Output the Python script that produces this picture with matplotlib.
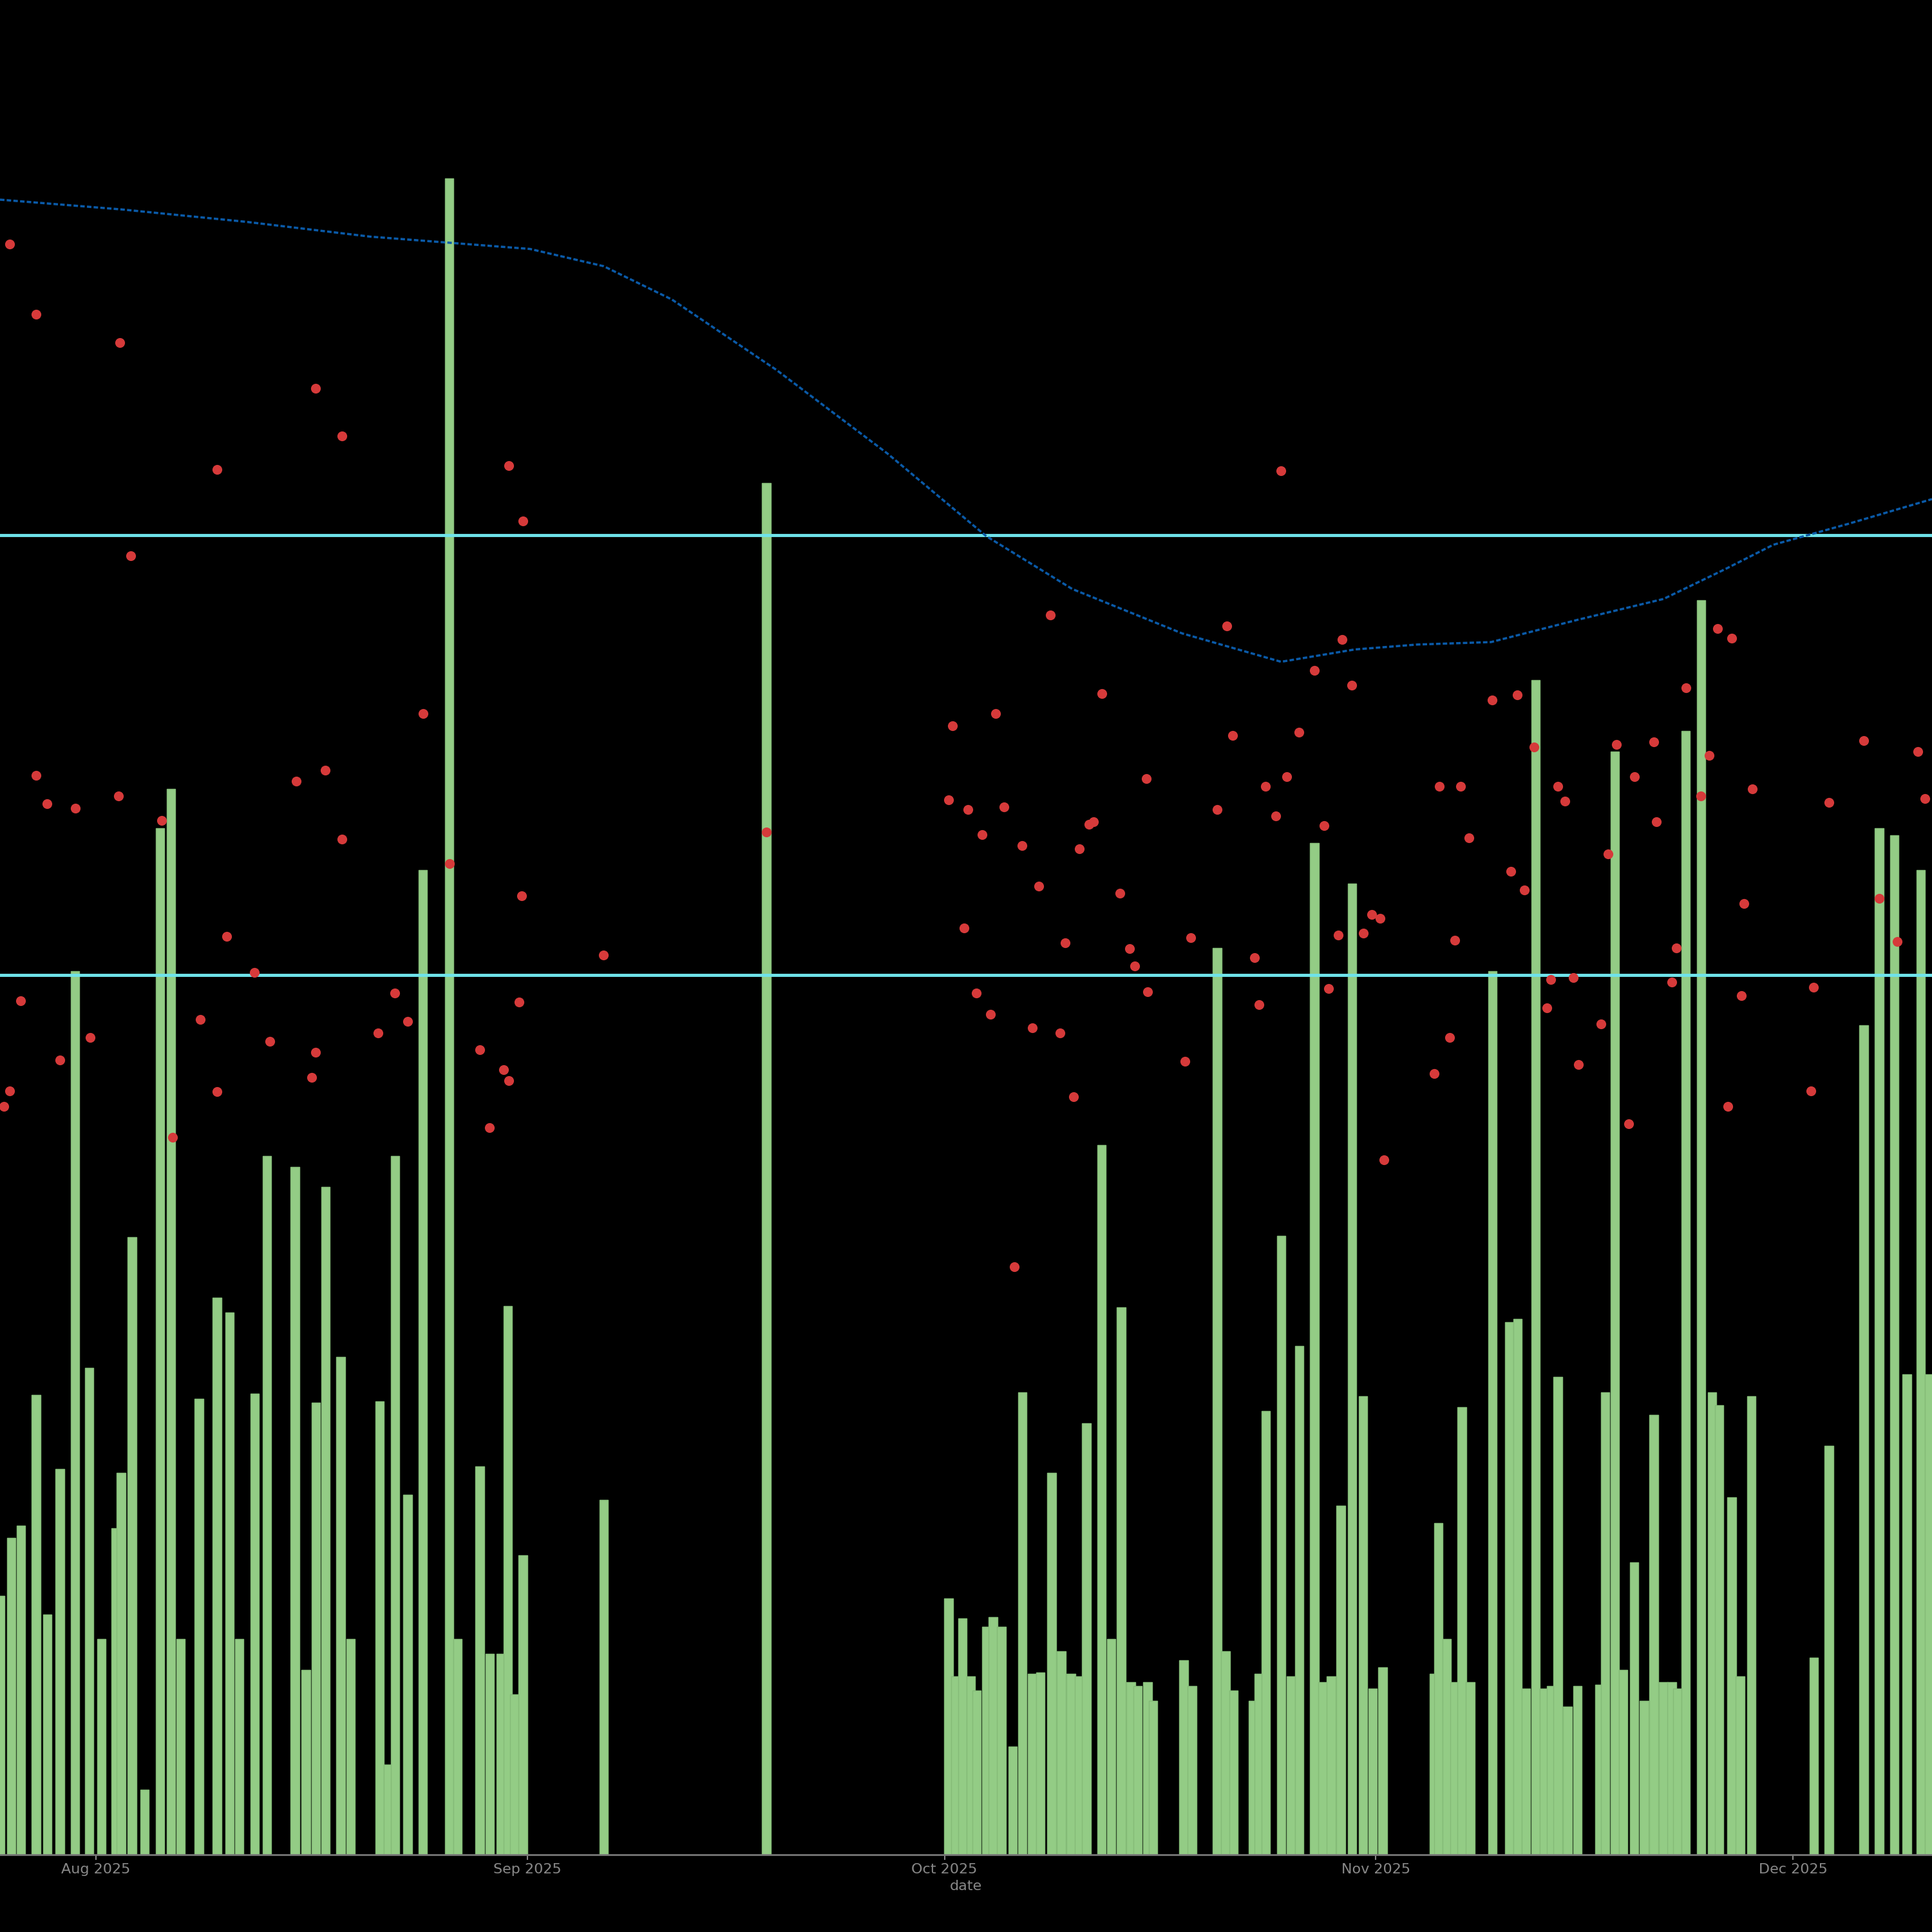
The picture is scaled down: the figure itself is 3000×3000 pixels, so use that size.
import numpy as np
import pandas as pd
import matplotlib
matplotlib.use("Agg")
import matplotlib.pyplot as plt
import matplotlib.dates as mdates

base = pd.Timestamp("2025-08-01")

# bars: days since 2025-08-01, values
bar_days = [-6.9,-6.1,-5.4,-4.3,-3.5,-2.6,-1.5,-0.5,0.4,1.4,1.8,2.6,3.5,4.6,5.4,6.1,7.4,8.7,9.6,10.3,11.4,12.3,14.3,15.1,15.8,16.5,17.6,18.3,20.4,21.0,21.5,22.4,23.5,25.4,26.0,27.6,28.3,29.1,29.6,30.1,30.7,36.5,48.2,
61.3,61.8,62.3,62.9,63.3,64.0,64.5,65.1,65.9,66.6,67.3,67.9,68.7,69.4,70.1,70.7,71.2,72.3,73.0,73.7,74.4,74.9,75.6,76.0,78.2,78.8,80.6,81.2,81.8,83.2,83.6,84.1,85.2,85.9,86.5,87.6,88.2,88.8,89.5,90.3,91.1,91.8,92.5,
96.2,96.5,97.1,97.7,98.2,98.8,100.4,101.6,102.2,102.8,103.5,104.1,104.6,105.1,105.8,106.5,108.1,108.5,109.2,109.8,110.6,111.3,112.0,112.7,113.3,113.7,114.3,115.4,116.2,116.7,117.6,118.2,119.0,123.5,124.6,127.1,128.2,129.3,130.2,131.2,131.8]
bar_vals = [21.0,25.7,26.7,37.3,19.5,31.3,71.7,39.5,17.5,26.5,31.0,50.1,5.3,83.3,86.5,17.5,37.0,45.2,44.0,17.5,37.4,56.7,55.8,15.0,36.7,54.2,40.4,17.5,36.8,7.3,56.7,29.2,79.9,136.0,17.5,31.5,16.3,16.3,44.5,13.0,24.3,28.8,111.3,
20.8,14.5,19.2,14.5,13.3,18.5,19.3,18.5,8.8,37.5,14.7,14.8,31.0,16.5,14.7,14.5,35.0,57.6,17.5,44.4,14.0,13.7,14.0,12.5,15.8,13.7,73.6,16.5,13.3,12.5,14.7,36.0,50.2,14.5,41.3,82.1,14.0,14.5,28.3,78.8,37.2,13.5,15.2,
14.7,26.9,17.5,14.0,36.3,14.0,71.7,43.2,43.5,13.5,95.3,13.5,13.7,38.8,12.0,13.7,13.8,37.5,89.5,15.0,23.7,12.5,35.7,14.0,14.0,13.5,91.2,101.8,37.5,36.5,29.0,14.5,37.2,16.0,33.2,67.3,83.3,82.7,39.0,79.9,39.0]

dot_days = [-6.2,-4.3,1.7,15.8,17.7,8.7,29.7,30.7,2.5,85.2,-4.3,-3.5,-1.5,1.6,4.7,14.4,16.5,17.7,23.5,25.4,30.6,9.4,11.4,-5.4,-0.4,7.5,12.5,21.5,22.4,20.3,-2.6,-6.2,-6.6,8.7,15.8,15.5,27.6,29.3,29.7,28.3,30.4,36.5,5.5,48.2,
61.6,64.7,61.3,62.7,63.7,65.3,66.6,67.8,62.4,63.3,64.3,67.3,69.3,69.7,70.3,68.6,72.3,70.7,71.4,71.7,73.6,74.3,74.7,75.6,75.5,78.3,78.7,80.6,81.7,81.3,83.3,83.6,84.1,84.8,85.6,86.5,87.6,88.3,88.6,89.3,89.6,90.3,91.1,91.7,92.3,92.6,66.0,
96.2,96.6,97.3,97.7,98.1,98.7,100.4,101.7,102.2,102.7,103.4,104.3,104.6,105.1,105.6,106.2,106.6,108.2,108.7,109.3,110.2,110.6,112.0,112.2,113.3,113.6,114.3,115.4,116.0,116.6,117.3,117.6,118.3,118.5,119.1,123.3,123.5,124.6,127.1,128.2,129.5,131.0,131.5]
dot_vals = [130.7,125.0,122.7,119.0,115.1,112.4,112.7,108.2,105.4,112.3,87.6,85.3,84.9,85.9,83.9,87.1,88.0,82.4,92.6,80.4,77.8,74.5,71.6,69.3,66.3,67.8,66.0,69.9,67.6,66.7,64.5,62.0,60.7,61.9,65.1,63.1,65.3,63.7,62.8,59.0,69.2,73.0,58.2,83.0,
91.6,92.6,85.6,84.8,82.8,85.0,81.9,78.6,75.2,69.9,68.2,67.1,66.7,74.0,61.5,100.6,94.2,81.6,83.6,83.8,78.0,73.5,72.1,70.0,87.3,64.4,74.4,84.8,90.8,99.7,72.8,69.0,86.7,84.3,87.5,91.1,96.1,83.5,70.3,74.6,98.6,94.9,74.8,76.3,76.0,56.4,47.7,
63.4,86.7,66.3,74.2,86.7,82.5,93.7,79.8,94.1,78.3,89.9,68.7,71.0,86.7,85.5,71.2,64.1,67.4,81.2,90.1,59.3,87.5,90.3,83.8,70.8,73.6,94.7,85.9,89.2,99.5,60.7,98.7,69.7,77.2,86.5,62.0,70.4,85.4,90.4,77.6,74.1,89.5,85.7]

trend_days = [-6.9,1.9,10.8,19.7,31.2,36.5,41.4,48.9,56.9,64.0,70.2,78.1,85.2,90.5,95.0,100.3,106.5,112.7,117.1,120.6,126.0,132.0]
trend_vals = [134.3,133.5,132.5,131.3,130.3,128.9,126.2,120.5,113.7,107.0,102.7,99.1,96.8,97.8,98.2,98.4,100.2,101.9,104.3,106.3,108.0,110.0]

hlines = [107.1, 71.4]

def to_dt(days):
    return [base + pd.Timedelta(days=d) for d in days]

fig = plt.figure(figsize=(30, 30), dpi=100, facecolor="black")
ax = fig.add_axes([0, 0.040, 1, 0.960], facecolor="black")

ax.bar(to_dt(bar_days), bar_vals, width=0.62, color="#93cc85", edgecolor="#84bb77", linewidth=1, zorder=2)
for h in hlines:
    ax.axhline(h, color="#6fe3ea", linewidth=3.5, zorder=3)
ax.plot(to_dt(trend_days), trend_vals, color="#0a5aa8", linewidth=2.5, linestyle=(0, (2, 1)), zorder=4)
ax.scatter(to_dt(dot_days), dot_vals, s=120, color="#d63a3a", zorder=5, linewidths=0)

ax.set_xlim(base + pd.Timedelta(days=-6.9), base + pd.Timedelta(days=132.0))
ax.set_ylim(0, 150.5)
ax.xaxis.set_major_locator(mdates.MonthLocator())
ax.xaxis.set_major_formatter(mdates.DateFormatter("%b %Y"))
ax.tick_params(axis="x", colors="#888888", labelsize=16, length=6, width=1.5)
ax.set_yticks([])
for s in ["left", "right", "top"]:
    ax.spines[s].set_visible(False)
ax.spines["bottom"].set_color("#777777")
ax.spines["bottom"].set_linewidth(2)
ax.set_xlabel("date", color="#888888", fontsize=16, labelpad=4)

fig.savefig("out.png", dpi=100, facecolor="black")
